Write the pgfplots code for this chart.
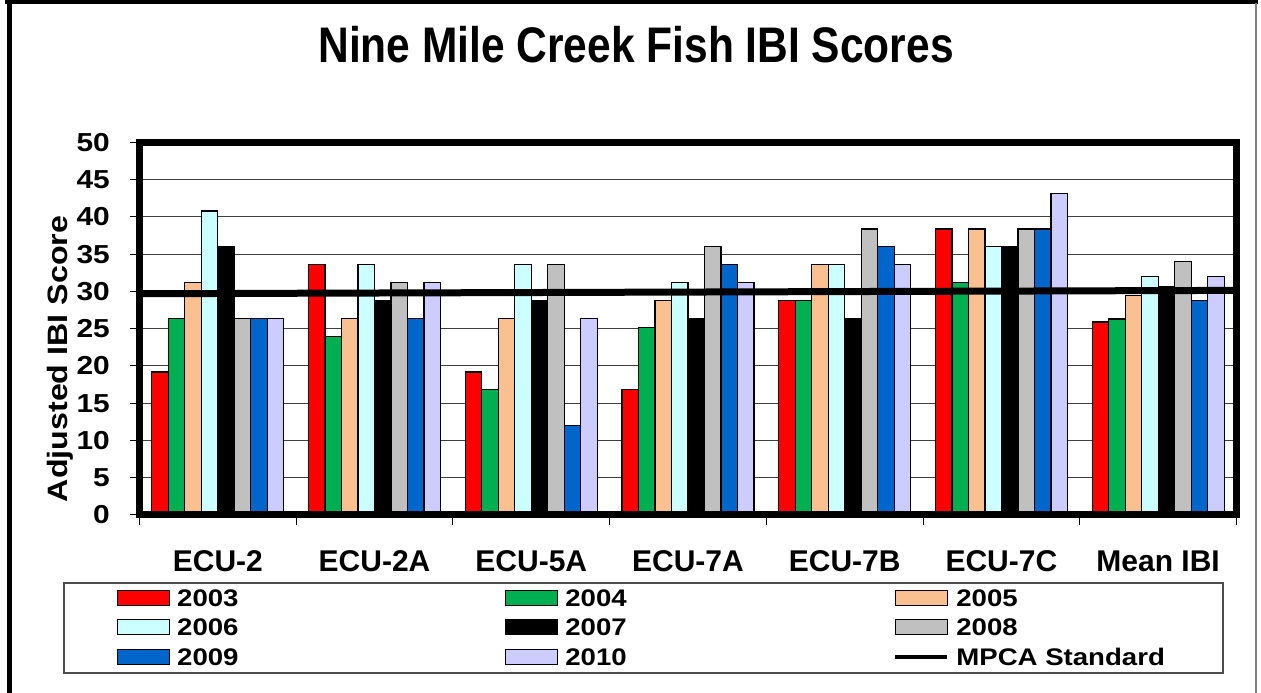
\documentclass[border=0pt]{standalone}
\usepackage{fontspec}
\setmainfont{Liberation Sans}
\newfontfamily\widefont{Liberation Sans}[FakeStretch=1.15]
\newfontfamily\narrowfont{Liberation Sans}[FakeStretch=0.85]
\usepackage{pgfplots}
\pgfplotsset{compat=1.18}
\usepackage{pgfplotstable}

\definecolor{c2003}{HTML}{FF0000}
\definecolor{c2004}{HTML}{00B050}
\definecolor{c2005}{HTML}{FAC090}
\definecolor{c2006}{HTML}{CCFFFF}
\definecolor{c2007}{HTML}{000000}
\definecolor{c2008}{HTML}{C0C0C0}
\definecolor{c2009}{HTML}{0066CC}
\definecolor{c2010}{HTML}{CCCCFF}

\pgfplotstableread{
x y2003 y2004 y2005 y2006 y2007 y2008 y2009 y2010
0 19.2 26.4 31.2 40.8 36.0 26.4 26.4 26.4
1 33.6 24.0 26.4 33.6 28.8 31.2 26.4 31.2
2 19.2 16.8 26.4 33.6 28.8 33.6 12.0 26.4
3 16.8 25.2 28.8 31.2 26.4 36.0 33.6 31.2
4 28.8 28.8 33.6 33.6 26.4 38.4 36.0 33.6
5 38.4 31.2 38.4 36.0 36.0 38.4 38.4 43.2
6 25.9 26.3 29.5 32.0 30.6 34.0 28.8 32.0
}\ibidata

\pgfplotsset{
  mybar/.style={ybar, bar width=16.5pt, bar shift=#1, draw=black, line width=1.2pt,
    legend image code/.code={\draw[##1, bar shift=0pt, line width=1.2pt] (0pt,-7.5pt) rectangle (52pt,7.5pt);}},
}
\newcommand{\lent}[1]{\makebox[335pt][l]{\hspace{7pt}#1}}

\begin{document}
\begin{tikzpicture}
\path[use as bounding box] (0pt,0pt) rectangle (1261pt,693pt);
\fill[white] (0pt,0pt) rectangle (1261pt,693pt);
\draw[line width=4pt] (5pt,691pt) -- (1258pt,691pt);
\draw[line width=4.4pt] (9.5pt,0pt) -- (9.5pt,693pt);
\draw[gray, line width=1.5pt] (1256pt,0pt) -- (1256pt,690pt);
\node[font=\narrowfont\bfseries\fontsize{50}{50}\selectfont, anchor=base] at (636pt,630pt) {Nine Mile Creek Fish IBI Scores};
\node[rotate=90, anchor=base, font=\widefont\bfseries\fontsize{28}{28}\selectfont] at (67pt,334pt) {Adjusted IBI Score};
\draw[line width=1.3pt, black!70] (64pt,110pt) rectangle (1223pt,20pt);

\begin{axis}[
  at={(139.5pt,178pt)}, anchor=south west,
  scale only axis, width=1097pt, height=372.5pt,
  xmin=-0.5, xmax=6.5, ymin=0, ymax=50,
  axis line style={draw=none},
  ytick={0,5,...,50},
  ymajorgrids, grid style={line width=1pt, black!75},
  xtick={0,...,6},
  xticklabels={ECU-2,ECU-2A,ECU-5A,ECU-7A,ECU-7B,ECU-7C,Mean IBI},
  major x tick style={draw=none},
  minor xtick={-0.5,0.5,...,6.5},
  minor x tick style={black, line width=1pt},
  minor tick length=10pt,
  major tick length=10pt,
  y tick style={black, line width=1pt},
  tick align=outside, tick pos=left,
  xticklabel style={font=\bfseries\fontsize{30}{30}\selectfont, anchor=base, yshift=-47pt},
  yticklabel style={font=\widefont\bfseries\fontsize{26}{26}\selectfont, anchor=east, xshift=-19.5pt, inner sep=0pt},
  /pgf/number format/assume math mode=true,
  legend columns=3,
  legend style={at={(-0.02051,-0.18255)}, anchor=north west, draw=none, fill=none,
    inner sep=0pt, outer sep=0pt, column sep=0pt, row sep=0pt,
    nodes={inner sep=0pt, outer sep=0pt, text height=23.25pt, text depth=6.25pt},
    font=\widefont\bfseries\fontsize{24}{24}\selectfont},
  legend cell align=left,
  after end axis/.code={\draw[line width=7pt, line join=miter] (rel axis cs:0,0) rectangle (rel axis cs:1,1);},
]
\addplot[mybar=-57.75pt, fill=c2003] table[x=x, y=y2003]{\ibidata};
\addlegendentry{\lent{2003}}
\addplot[mybar=-41.25pt, fill=c2004] table[x=x, y=y2004]{\ibidata};
\addlegendentry{\lent{2004}}
\addplot[mybar=-24.75pt, fill=c2005] table[x=x, y=y2005]{\ibidata};
\addlegendentry{\lent{2005}}
\addplot[mybar=-8.25pt, fill=c2006] table[x=x, y=y2006]{\ibidata};
\addlegendentry{\lent{2006}}
\addplot[mybar=8.25pt, fill=c2007] table[x=x, y=y2007]{\ibidata};
\addlegendentry{\lent{2007}}
\addplot[mybar=24.75pt, fill=c2008] table[x=x, y=y2008]{\ibidata};
\addlegendentry{\lent{2008}}
\addplot[mybar=41.25pt, fill=c2009] table[x=x, y=y2009]{\ibidata};
\addlegendentry{\lent{2009}}
\addplot[mybar=57.75pt, fill=c2010] table[x=x, y=y2010]{\ibidata};
\addlegendentry{\lent{2010}}
\addplot[sharp plot, black, line width=7pt, mark=none,
  legend image code/.code={\draw[black, line width=4pt] (0pt,0pt) -- (52pt,0pt);}]
  coordinates {(-0.5,29.7) (6.5,30.15)};
\addlegendentry{\hspace{7pt}MPCA Standard}
\end{axis}
\end{tikzpicture}
\end{document}
